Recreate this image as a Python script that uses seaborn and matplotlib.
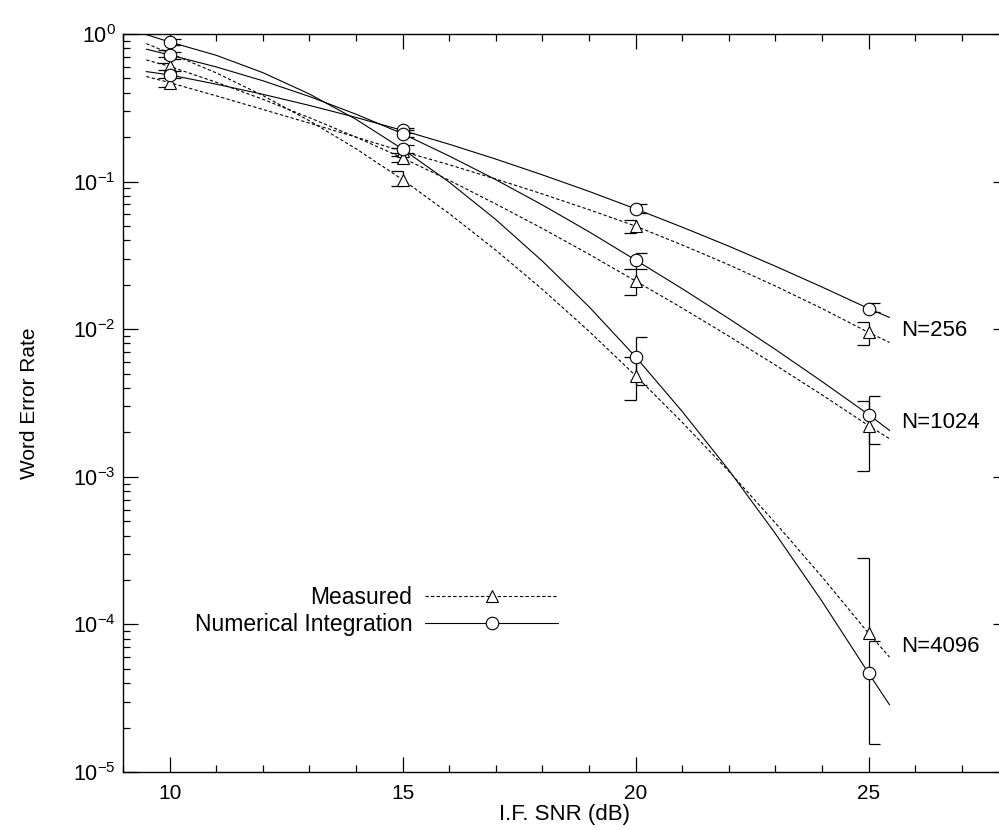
import numpy as np
import pandas as pd
import matplotlib
matplotlib.use("Agg")
import matplotlib.pyplot as plt
import seaborn as sns
from matplotlib.lines import Line2D
from matplotlib.ticker import MultipleLocator, FixedLocator, FuncFormatter, NullFormatter

# ---------------- data ----------------
block_sizes = ["N=256", "N=1024", "N=4096"]
snr_points = [10, 15, 20, 25]
curve_snr = [9.5, 10, 11, 12, 13, 14, 15, 16, 17, 18, 19, 20, 21, 22, 23, 24, 25, 25.45]

# curves (word error rate along each drawn line)
numerical_curve_256 = [0.556, 0.528, 0.457, 0.390, 0.328, 0.272, 0.222, 0.179, 0.142, 0.111,
                       0.0858, 0.0653, 0.0491, 0.0365, 0.0267, 0.0193, 0.0138, 0.0120]
numerical_curve_1024 = [0.789, 0.721, 0.598, 0.482, 0.377, 0.286, 0.211, 0.149, 0.103, 0.0694,
                        0.0457, 0.0294, 0.0188, 0.0118, 0.00729, 0.00442, 0.00264, 0.00206]
numerical_curve_4096 = [0.99, 0.883, 0.717, 0.547, 0.392, 0.264, 0.166, 0.0991, 0.0553, 0.0289,
                        0.0142, 0.0065, 0.00277, 0.00111, 4.12e-4, 1.435e-4, 4.67e-5, 2.85e-5]
measured_curve_256 = [0.515, 0.468, 0.381, 0.308, 0.249, 0.200, 0.160, 0.130, 0.104, 0.0824,
                      0.0645, 0.0499, 0.0372, 0.0273, 0.0196, 0.0138, 0.0095, 0.00813]
measured_curve_1024 = [0.667, 0.603, 0.471, 0.361, 0.271, 0.200, 0.1445, 0.102, 0.0705, 0.0481,
                       0.0322, 0.0212, 0.0139, 0.00897, 0.00571, 0.00359, 0.00222, 0.00181]
measured_curve_4096 = [0.86, 0.741, 0.545, 0.383, 0.258, 0.167, 0.103, 0.0607, 0.0343, 0.0186,
                       0.00968, 0.00484, 0.00234, 0.00109, 4.87e-4, 2.10e-4, 8.7e-5, 6.0e-5]

# marker values and error bar limits at snr_points
numerical_256 = [0.528, 0.222, 0.0653, 0.0138]
numerical_256_lo = [0.50, 0.213, 0.061, 0.0130]
numerical_256_hi = [0.56, 0.232, 0.070, 0.0151]
numerical_1024 = [0.721, 0.211, 0.0294, 0.00264]
numerical_1024_lo = [0.68, 0.200, 0.0254, 0.00166]
numerical_1024_hi = [0.76, 0.222, 0.033, 0.00355]
numerical_4096 = [0.883, 0.166, 0.0065, 4.67e-5]
numerical_4096_lo = [0.84, 0.157, 0.00419, 1.54e-5]
numerical_4096_hi = [0.92, 0.176, 0.00879, 7.7e-5]

measured_256 = [0.468, 0.160, 0.0499, 0.0095]
measured_256_lo = [0.44, 0.150, 0.0445, 0.0078]
measured_256_hi = [0.50, 0.170, 0.0548, 0.0112]
measured_1024 = [0.603, 0.1445, 0.0212, 0.00222]
measured_1024_lo = [0.57, 0.135, 0.0171, 0.0011]
measured_1024_hi = [0.64, 0.155, 0.0254, 0.00328]
measured_4096 = [0.741, 0.103, 0.00484, 8.7e-5]
measured_4096_lo = [0.70, 0.094, 0.00331, np.nan]
measured_4096_hi = [0.78, 0.1174, 0.0065, 2.8e-4]

methods = ["Measured", "Numerical Integration"]

# ---------------- build tables ----------------
curves = {
    ("Measured", "N=256"): measured_curve_256,
    ("Measured", "N=1024"): measured_curve_1024,
    ("Measured", "N=4096"): measured_curve_4096,
    ("Numerical Integration", "N=256"): numerical_curve_256,
    ("Numerical Integration", "N=1024"): numerical_curve_1024,
    ("Numerical Integration", "N=4096"): numerical_curve_4096,
}
rows = []
for (m, n), vals in curves.items():
    for x, v in zip(curve_snr, vals):
        rows.append({"snr": x, "wer": v, "N": n, "method": m})
df_lines = pd.DataFrame(rows)

points = {
    ("Measured", "N=256"): (measured_256, measured_256_lo, measured_256_hi),
    ("Measured", "N=1024"): (measured_1024, measured_1024_lo, measured_1024_hi),
    ("Measured", "N=4096"): (measured_4096, measured_4096_lo, measured_4096_hi),
    ("Numerical Integration", "N=256"): (numerical_256, numerical_256_lo, numerical_256_hi),
    ("Numerical Integration", "N=1024"): (numerical_1024, numerical_1024_lo, numerical_1024_hi),
    ("Numerical Integration", "N=4096"): (numerical_4096, numerical_4096_lo, numerical_4096_hi),
}

# ---------------- style ----------------
sns.set_style("ticks")
plt.rcParams["font.family"] = ["Liberation Sans", "DejaVu Sans"]
plt.rcParams["mathtext.default"] = "regular"
plt.rcParams["axes.linewidth"] = 1.0
for key in ["text.color", "axes.labelcolor", "xtick.color", "ytick.color", "axes.edgecolor"]:
    plt.rcParams[key] = "black"

fig = plt.figure(figsize=(9.99, 8.30), dpi=100)
ax = fig.add_axes([0.1231, 0.0699, 0.8863, 0.8892])
ax.set_yscale("log")

dash_map = {"Measured": (3, 2), "Numerical Integration": ""}
sns.lineplot(data=df_lines, x="snr", y="wer", hue="N", style="method",
             palette={n: "black" for n in block_sizes}, dashes=dash_map,
             estimator=None, sort=False, legend=False, linewidth=0.8, ax=ax)

marker_map = {"Measured": "^", "Numerical Integration": "o"}
cap = 0.24
for (m, n), (vals, lo, hi) in points.items():
    vals = np.asarray(vals, float)
    lo = np.asarray(lo, float)
    hi = np.asarray(hi, float)
    x = np.asarray(snr_points, float)
    low_end = np.where(np.isnan(lo), vals, lo)
    ax.vlines(x, low_end, hi, color="black", lw=0.9, zorder=3)
    side = -cap if m == "Measured" else cap
    ax.hlines(hi, x, x + side, color="black", lw=0.9, zorder=3)
    ok = ~np.isnan(lo)
    ax.hlines(lo[ok], x[ok], x[ok] + side, color="black", lw=0.9, zorder=3)
    ax.plot(x, vals, ls="none", marker=marker_map[m], mfc="white", mec="black",
            ms=9, mew=0.8, zorder=4)

# axes limits / ticks
ax.set_xlim(9, 28)
ax.set_ylim(1e-5, 1)
ax.xaxis.set_major_locator(FixedLocator(snr_points))
ax.xaxis.set_minor_locator(MultipleLocator(1))
ax.yaxis.set_major_locator(FixedLocator([1e-5, 1e-4, 1e-3, 1e-2, 1e-1, 1]))
ax.yaxis.set_minor_locator(FixedLocator([k * 10.0 ** e for e in range(-5, 0) for k in range(2, 10)]))
ax.yaxis.set_minor_formatter(NullFormatter())
ax.yaxis.set_major_formatter(FuncFormatter(lambda v, p: r"$10^{%d}$" % int(round(np.log10(v)))))
ax.tick_params(which="both", direction="in", top=True, right=True, colors="black")
ax.tick_params(which="major", length=11, width=0.9)
ax.tick_params(which="minor", length=5, width=0.9)
ax.tick_params(axis="x", which="major", labelsize=15, pad=9)
ax.tick_params(axis="y", which="major", labelsize=15.5, pad=5)
for s in ax.spines.values():
    s.set_color("black")

ax.set_xlabel("I.F. SNR (dB)", fontsize=16)
ax.xaxis.set_label_coords(0.499, -0.044)
ax.set_ylabel("Word Error Rate", fontsize=15,
              family=["Liberation Sans Narrow", "Liberation Sans"])
ax.yaxis.set_label_coords(-0.095, 0.5)

# block size annotations
label_y = {"N=256": 0.00984, "N=1024": 0.00232, "N=4096": 7.1e-5}
for n in block_sizes:
    ax.text(25.70, label_y[n], n, fontsize=16, ha="left", va="center")

# legend
handles = [
    Line2D([], [], color="black", lw=0.8, ls=(0, (3, 2)), marker="^",
           mfc="white", mec="black", ms=9, mew=0.8),
    Line2D([], [], color="black", lw=0.8, ls="-", marker="o",
           mfc="white", mec="black", ms=9, mew=0.8),
]
fig.legend(handles, methods, loc="center right",
           bbox_to_anchor=(558 / 999, 1 - 611 / 830), frameon=False,
           markerfirst=False, numpoints=1, handlelength=5.8, handletextpad=0.55,
           fontsize=16.5, labelspacing=0.2, borderpad=0, borderaxespad=0)

fig.savefig("out.png", dpi=100)
